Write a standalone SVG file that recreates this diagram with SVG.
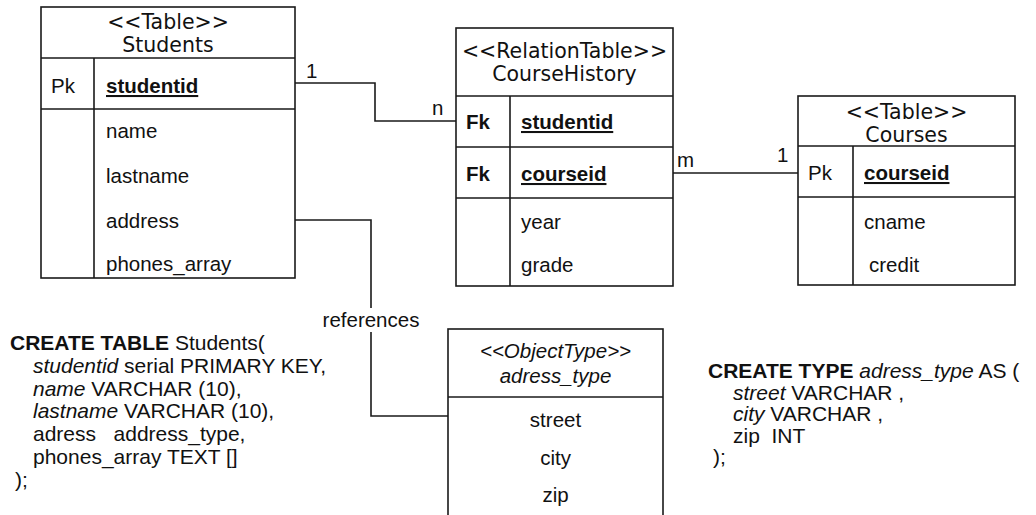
<svg xmlns="http://www.w3.org/2000/svg" width="1036" height="515" viewBox="0 0 1036 515">
<style>
.box{fill:#fff;stroke:#1a1a1a;stroke-width:1.6}
.ln{fill:none;stroke:#1a1a1a;stroke-width:1.6}
.hd{font-family:"DejaVu Sans",Verdana,sans-serif;font-size:20.5px;fill:#111;text-anchor:middle}
.t{font-family:"Liberation Sans",Arial,sans-serif;font-size:20.5px;fill:#111}
.s{font-size:21px}
.b{font-weight:bold}
.u{text-decoration:underline}
.i{font-style:italic}
.c{text-anchor:middle}
</style>
<rect width="1036" height="515" fill="#fff"/>
<g id="connectors">
<path class="ln" d="M295,83 H375 V121 H456"/>
<path class="ln" d="M295,220 H371 V416 H448"/>
<path class="ln" d="M673,173 H798"/>
<text class="t" x="306" y="78">1</text>
<text class="t" x="432" y="115">n</text>
<text class="t" x="677" y="167">m</text>
<text class="t" x="777" y="162">1</text>
<rect x="318" y="308" width="106" height="24" fill="#fff"/>
<text class="t c" x="371" y="327">references</text>
</g>
<g id="students">
<rect class="box" x="41" y="7" width="254" height="271"/>
<path class="ln" d="M41,58 H295 M41,109 H295 M94,58 V278"/>
<text class="hd" x="168" y="29">&lt;&lt;Table&gt;&gt;</text>
<text class="hd" x="168" y="52">Students</text>
<text class="t" x="51" y="93">Pk</text>
<text class="t b u" x="106" y="93">studentid</text>
<text class="t" x="106" y="138">name</text>
<text class="t" x="106" y="183">lastname</text>
<text class="t" x="106" y="228">address</text>
<text class="t" x="106" y="271">phones_array</text>
</g>
<g id="coursehistory">
<rect class="box" x="456" y="28" width="217" height="258"/>
<path class="ln" d="M456,96 H673 M456,147 H673 M456,198 H673 M510,96 V286"/>
<text class="hd" x="564.5" y="58">&lt;&lt;RelationTable&gt;&gt;</text>
<text class="hd" x="564.5" y="81">CourseHistory</text>
<text class="t b" x="466" y="129">Fk</text>
<text class="t b u" x="521" y="129">studentid</text>
<text class="t b" x="466" y="181">Fk</text>
<text class="t b u" x="521" y="181">courseid</text>
<text class="t" x="521" y="229">year</text>
<text class="t" x="521" y="272">grade</text>
</g>
<g id="courses">
<rect class="box" x="798" y="96" width="217" height="189"/>
<path class="ln" d="M798,146 H1015 M798,197 H1015 M853,146 V285"/>
<text class="hd" x="906.5" y="119">&lt;&lt;Table&gt;&gt;</text>
<text class="hd" x="906.5" y="142">Courses</text>
<text class="t" x="808" y="180">Pk</text>
<text class="t b u" x="864" y="180">courseid</text>
<text class="t" x="864" y="229">cname</text>
<text class="t" x="869" y="272">credit</text>
</g>
<g id="adress_type">
<rect class="box" x="448" y="329" width="215" height="210"/>
<path class="ln" d="M448,397 H663"/>
<text class="t i c" x="555.5" y="358">&lt;&lt;ObjectType&gt;&gt;</text>
<text class="t i c" x="555.5" y="383">adress_type</text>
<text class="t c" x="555.5" y="427">street</text>
<text class="t c" x="555.5" y="465">city</text>
<text class="t c" x="555.5" y="502">zip</text>
</g>
<g id="sql-table">
<text class="t s" x="10" y="350"><tspan class="b">CREATE TABLE</tspan> Students(</text>
<text class="t s" x="33" y="373"><tspan class="i">studentid</tspan> serial PRIMARY KEY,</text>
<text class="t s" x="33" y="396"><tspan class="i">name</tspan> VARCHAR (10),</text>
<text class="t s" x="33" y="418"><tspan class="i">lastname</tspan> VARCHAR (10),</text>
<text class="t s" x="33" y="441" xml:space="preserve">adress   address_type,</text>
<text class="t s" x="33" y="464">phones_array TEXT []</text>
<text class="t s" x="15" y="487">);</text>
</g>
<g id="sql-type">
<text class="t s" x="708" y="378"><tspan class="b">CREATE TYPE</tspan> <tspan class="i">adress_type</tspan> AS (</text>
<text class="t s" x="733" y="400"><tspan class="i">street</tspan> VARCHAR ,</text>
<text class="t s" x="733" y="421"><tspan class="i">city</tspan> VARCHAR ,</text>
<text class="t s" x="733" y="443" xml:space="preserve">zip  INT</text>
<text class="t s" x="713" y="464">);</text>
</g>
</svg>
